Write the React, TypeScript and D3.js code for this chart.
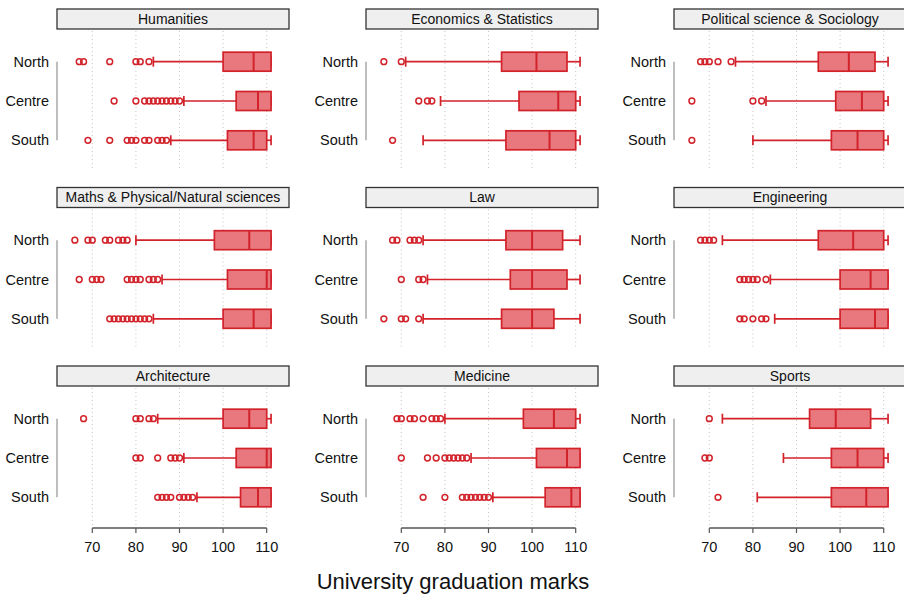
import React from "react";
import * as d3 from "d3";

// Faculties, in panel order (row by row), and the three macro-regions
const faculties = [
  "Humanities",
  "Economics & Statistics",
  "Political science & Sociology",
  "Maths & Physical/Natural sciences",
  "Law",
  "Engineering",
  "Architecture",
  "Medicine",
  "Sports",
];
const regions = ["North", "Centre", "South"];
const xTicks = [70, 80, 90, 100, 110];

// Box-plot statistics per faculty, each entry ordered North, Centre, South
const whiskerLow = [
  [84, 91, 88],
  [71, 79, 75],
  [76, 83, 80],
  [80, 86, 84],
  [75, 76, 75],
  [73, 84, 85],
  [85, 91, 94],
  [80, 86, 91],
  [73, 87, 81],
];
const q1 = [
  [100, 103, 101],
  [93, 97, 94],
  [95, 99, 98],
  [98, 101, 100],
  [94, 95, 93],
  [95, 100, 100],
  [100, 103, 104],
  [98, 101, 103],
  [93, 98, 98],
];
const median = [
  [107, 108, 107],
  [101, 106, 104],
  [102, 105, 104],
  [106, 110, 107],
  [100, 100, 100],
  [103, 107, 108],
  [106, 110, 108],
  [105, 108, 109],
  [99, 104, 106],
];
const q3 = [
  [111, 111, 110],
  [108, 110, 110],
  [108, 110, 110],
  [111, 111, 111],
  [107, 108, 105],
  [110, 111, 111],
  [110, 111, 111],
  [110, 111, 111],
  [107, 110, 111],
];
const whiskerHigh = [
  [111, 111, 111],
  [111, 111, 111],
  [111, 111, 111],
  [111, 111, 111],
  [111, 111, 111],
  [111, 111, 111],
  [111, 111, 111],
  [111, 111, 111],
  [111, 111, 111],
];
const outliers = [
  [
    [67, 68, 74, 80, 81, 83],
    [75, 80, 82, 83, 84, 85, 86, 87, 88, 89, 90],
    [69, 74, 78, 79, 80, 82, 83, 85, 86, 87],
  ],
  [[66, 70], [74, 76, 77], [68]],
  [[68, 69, 70, 72, 75], [66, 80, 82], [66]],
  [
    [66, 69, 70, 73, 74, 76, 77, 78],
    [67, 70, 71, 72, 78, 79, 80, 81, 83, 84, 85],
    [74, 75, 76, 77, 78, 79, 80, 81, 82, 83],
  ],
  [[68, 69, 72, 73, 74], [70, 74, 75], [66, 70, 71, 74]],
  [[68, 69, 70, 71], [77, 78, 79, 80, 81, 83], [77, 78, 80, 82, 83]],
  [[68, 80, 81, 83, 84], [80, 81, 85, 88, 89, 90], [85, 86, 87, 88, 90, 91, 92, 93]],
  [
    [69, 70, 72, 73, 75, 77, 78, 79],
    [70, 76, 78, 80, 81, 82, 83, 84, 85],
    [75, 80, 84, 85, 86, 87, 88, 89, 90],
  ],
  [[70], [69, 70], [72]],
];

const W = 904;
const H = 596;
const colLeft = [57, 366, 674];
const panelW = 232;
const rowTop0 = 9;
const rowStep = 178.5;
const stripH = 20;
const panelBottom = 162; // offset from strip top to the panel floor

const RED = "#d2222a";
const FILL = "#e8787d";
const FONT = "'Liberation Sans', Arial, Helvetica, sans-serif";

function Panel({ idx }: { idx: number }) {
  const col = idx % 3;
  const row = Math.floor(idx / 3);
  const left = colLeft[col];
  const top = rowTop0 + row * rowStep;
  const x = d3.scaleLinear().domain([70, 110]).range([left + 35.3, left + 209.7]);
  const y = d3
    .scalePoint<string>()
    .domain(regions)
    .range([top + 52.7, top + 131.3]);
  const boxH = 19;
  const capH = 10;
  const isBottom = row === 2;
  const floor = top + panelBottom;

  return (
    <g>
      {/* dotted vertical reference lines */}
      {xTicks.map((t) => (
        <line
          key={t}
          x1={x(t)}
          x2={x(t)}
          y1={top + stripH + 2}
          y2={floor}
          stroke="#c4c4c4"
          strokeWidth={1}
          strokeDasharray="1 3"
        />
      ))}
      {/* strip */}
      <rect
        x={left}
        y={top}
        width={panelW}
        height={stripH}
        fill="#efefef"
        stroke="#333"
        strokeWidth={1.3}
      />
      <text
        x={left + panelW / 2}
        y={top + stripH / 2 + 1}
        textAnchor="middle"
        dominantBaseline="middle"
        fontFamily={FONT}
        fontSize={14}
        fill="#111"
      >
        {faculties[idx]}
      </text>
      {/* category axis */}
      <line
        x1={left}
        x2={left}
        y1={y("North")!}
        y2={y("South")!}
        stroke="#a8a8a8"
        strokeWidth={1.5}
      />
      {regions.map((r) => (
        <text
          key={r}
          x={left - 8}
          y={y(r)!}
          textAnchor="end"
          dominantBaseline="central"
          fontFamily={FONT}
          fontSize={14.5}
          fill="#111"
        >
          {r}
        </text>
      ))}
      {/* boxes */}
      {regions.map((r, j) => {
        const cy = y(r)!;
        const lo = whiskerLow[idx][j];
        const hi = whiskerHigh[idx][j];
        const a = q1[idx][j];
        const m = median[idx][j];
        const b = q3[idx][j];
        return (
          <g key={r} stroke={RED} fill="none">
            <line x1={x(lo)} x2={x(a)} y1={cy} y2={cy} strokeWidth={1.7} />
            <line x1={x(b)} x2={x(hi)} y1={cy} y2={cy} strokeWidth={1.7} />
            <line x1={x(lo)} x2={x(lo)} y1={cy - capH / 2} y2={cy + capH / 2} strokeWidth={1.7} />
            <line x1={x(hi)} x2={x(hi)} y1={cy - capH / 2} y2={cy + capH / 2} strokeWidth={1.7} />
            <rect
              x={x(a)}
              y={cy - boxH / 2}
              width={x(b) - x(a)}
              height={boxH}
              fill={FILL}
              strokeWidth={1.7}
            />
            <line x1={x(m)} x2={x(m)} y1={cy - boxH / 2} y2={cy + boxH / 2} strokeWidth={2} />
            {outliers[idx][j].map((v, k) => (
              <circle key={k} cx={x(v)} cy={cy} r={2.9} strokeWidth={1.5} />
            ))}
          </g>
        );
      })}
      {/* value axis on the bottom row */}
      {isBottom && (
        <g>
          <line
            x1={x(70)}
            x2={x(110)}
            y1={floor}
            y2={floor}
            stroke="#555"
            strokeWidth={1.3}
          />
          {xTicks.map((t) => (
            <g key={t}>
              <line x1={x(t)} x2={x(t)} y1={floor} y2={floor + 5} stroke="#555" strokeWidth={1.2} />
              <text
                x={x(t)}
                y={floor + 18.5}
                textAnchor="middle"
                dominantBaseline="central"
                fontFamily={FONT}
                fontSize={14.5}
                fill="#111"
              >
                {t}
              </text>
            </g>
          ))}
        </g>
      )}
    </g>
  );
}

export default function App() {
  return (
    <svg
      width={W}
      height={H}
      style={{ position: "absolute", left: 0, top: 0, background: "#fff" }}
    >
      <rect x={0} y={0} width={W} height={H} fill="#fff" />
      {faculties.map((f, i) => (
        <Panel key={f} idx={i} />
      ))}
      <text
        x={453}
        y={589}
        textAnchor="middle"
        fontFamily={FONT}
        fontSize={22}
        fill="#111"
      >
        University graduation marks
      </text>
    </svg>
  );
}
